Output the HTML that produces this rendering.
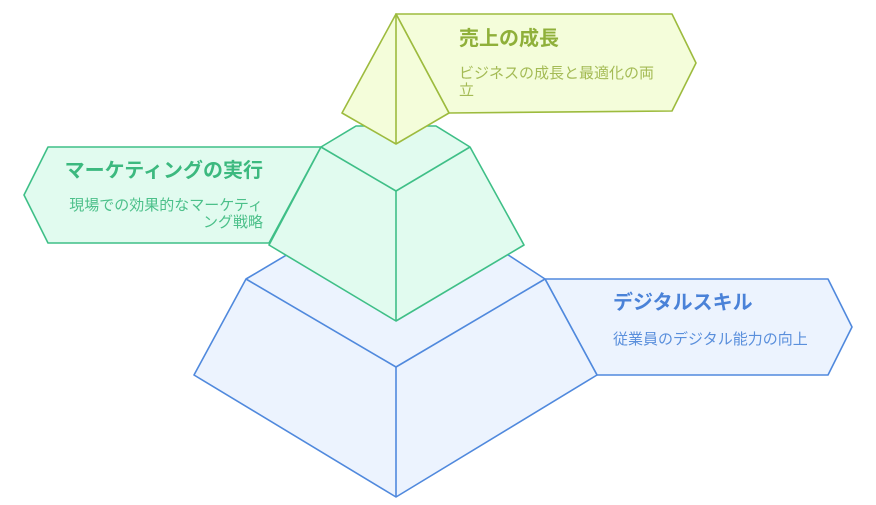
<!DOCTYPE html>
<html><head><meta charset="utf-8"><style>
html,body{margin:0;padding:0;background:#fff;width:876px;height:505px;overflow:hidden}
svg{display:block}
text{font-family:"Liberation Sans","Noto Sans CJK JP",sans-serif}
</style></head><body>
<svg width="876" height="505" viewBox="0 0 876 505" xmlns="http://www.w3.org/2000/svg">
<!-- Blue tier -->
<g stroke="#5089dd" stroke-width="1.6" fill="#ecf3fe" stroke-linejoin="round">
<polygon points="545,279 828,279 852,327 828,375 597,375"/>
<polygon points="246,279 300,247 496,247 545,279 597,375 396,497 194,375"/>
<polyline fill="none" points="246,279 396,367 545,279"/>
<line x1="396" y1="367" x2="396" y2="497"/>
</g>
<!-- Green tier -->
<g stroke="#3fbf87" stroke-width="1.6" fill="#e1fbef" stroke-linejoin="round">
<polygon points="321,147 48,147 24,195 48,243 269,243"/>
<polygon points="321,147 356,126 436,126 470,147 524,245 396,321 269,245"/>
<polyline fill="none" points="321,147 396,191 470,147"/>
<line x1="396" y1="191" x2="396" y2="321"/>
</g>
<!-- Yellow tier -->
<g stroke="#9dbb3e" stroke-width="1.6" fill="#f4fdda" stroke-linejoin="round">
<polygon points="396,14 672,14 696,63 672,111 449,113"/>
<polygon points="396,14 449,113 396,144 342,113"/>
<line x1="396" y1="14" x2="396" y2="144"/>
</g>
<text x="459" y="45" font-size="20" font-weight="bold" fill="#8fb03a">売上の成長</text>
<text x="459" y="78" font-size="15" fill="#a4bb55">ビジネスの成長と最適化の両</text>
<text x="459" y="95" font-size="15" fill="#a4bb55">立</text>
<text x="263" y="177" font-size="20" font-weight="bold" fill="#3cb97f" text-anchor="end">マーケティングの実行</text>
<text x="263" y="210" font-size="15" fill="#4cc08a" text-anchor="end">現場での効果的なマーケティ</text>
<text x="263" y="227" font-size="15" fill="#4cc08a" text-anchor="end">ング戦略</text>
<text x="613" y="309" font-size="20" font-weight="bold" fill="#4a82d8">デジタルスキル</text>
<text x="613" y="344" font-size="15" fill="#5a8fdc">従業員のデジタル能力の向上</text>
</svg>
</body></html>
